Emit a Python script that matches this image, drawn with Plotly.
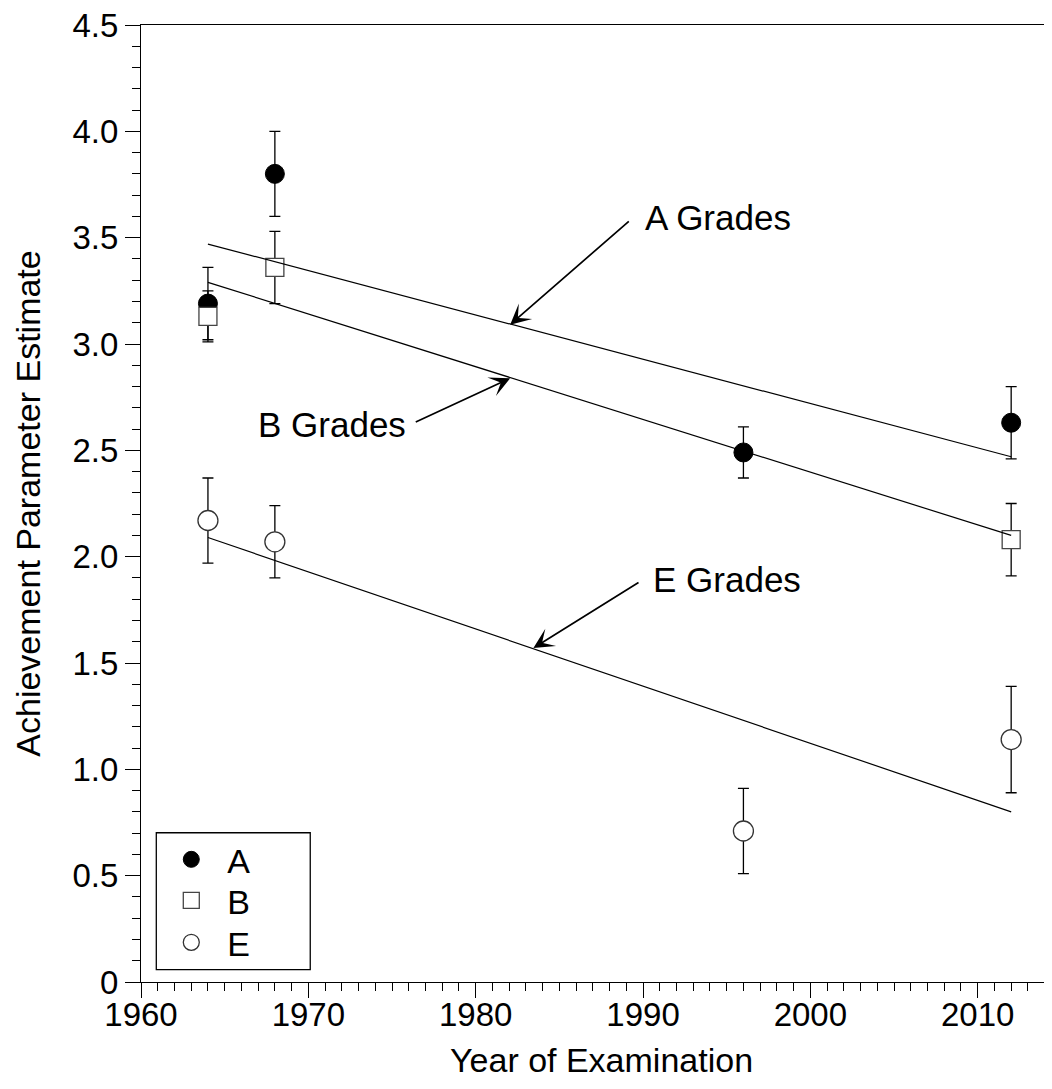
import plotly.graph_objects as go

# ---------------- data ----------------
years_A = [1964, 1968, 1996, 2012]
grade_A = [3.19, 3.80, 2.49, 2.63]
err_A = [0.17, 0.20, 0.12, 0.17]

years_B = [1964, 1968, 2012]
grade_B = [3.13, 3.36, 2.08]
err_B = [0.12, 0.17, 0.17]

years_E = [1964, 1968, 1996, 2012]
grade_E = [2.17, 2.07, 0.71, 1.14]
err_E = [0.20, 0.17, 0.20, 0.25]

fit_years = [1964, 2012]
fit_A = [3.47, 2.47]
fit_B = [3.29, 2.10]
fit_E = [2.09, 0.80]

y_tickvals = [0, 0.5, 1.0, 1.5, 2.0, 2.5, 3.0, 3.5, 4.0, 4.5]
y_ticktext = ["0", "0.5", "1.0", "1.5", "2.0", "2.5", "3.0", "3.5", "4.0", "4.5"]
x_tickvals = [1960, 1970, 1980, 1990, 2000, 2010]

FONT = "Liberation Sans, Arial, Helvetica, sans-serif"

# figure geometry (page has 8px body margin)
W, H = 1044, 1073
ML, MT = 132.7, 17
BOTTOM = 974.3
PLOT_W = W - ML
PLOT_H = BOTTOM - MT


def px_to_paper_x(sx):
    return (sx - 8 - ML) / PLOT_W


def px_to_paper_y(sy):
    return (BOTTOM - (sy - 8)) / PLOT_H


fig = go.Figure()


def err(arr):
    return dict(type="data", array=arr, visible=True, color="black", thickness=1.3, width=5.5)


fig.add_trace(go.Scatter(x=years_A, y=grade_A, mode="markers", name="A", legend="legend",
                         marker=dict(symbol="circle", size=19, color="black",
                                     line=dict(color="black", width=1)),
                         error_y=err(err_A)))
fig.add_trace(go.Scatter(x=years_B, y=grade_B, mode="markers", name="B", legend="legend2",
                         marker=dict(symbol="square", size=18, color="white",
                                     line=dict(color="#444", width=1.3)),
                         error_y=err(err_B)))
fig.add_trace(go.Scatter(x=years_E, y=grade_E, mode="markers", name="E", legend="legend3",
                         marker=dict(symbol="circle", size=20, color="white",
                                     line=dict(color="#333", width=1.3)),
                         error_y=err(err_E)))

for fy in (fit_A, fit_B, fit_E):
    fig.add_trace(go.Scatter(x=fit_years, y=fy, mode="lines", showlegend=False,
                             line=dict(color="black", width=1.2), hoverinfo="skip"))

# annotations: text labels and separate arrows
labels = [
    ("A Grades", 1990.0, 3.593),
    ("B Grades", 1966.85, 2.62),
    ("E Grades", 1990.5, 1.891),
]
for txt, xx, yy in labels:
    fig.add_annotation(x=xx, y=yy, text=txt, showarrow=False, xanchor="left", yanchor="middle",
                       font=dict(family=FONT, size=35, color="black"))

arrows = [
    (1982.06, 3.091, 1989.24, 3.583),
    (1982.06, 2.839, 1976.33, 2.630),
    (1983.45, 1.570, 1989.82, 1.883),
]
for hx, hy, tx, ty in arrows:
    fig.add_annotation(x=hx, y=hy, ax=tx, ay=ty, xref="x", yref="y", axref="x", ayref="y",
                       text="", showarrow=True, arrowhead=3, arrowsize=2.0, arrowwidth=1.7,
                       arrowcolor="black")

# x-axis title (placed as paper annotation so it can sit low in the margin)
fig.add_annotation(x=px_to_paper_x(601), y=px_to_paper_y(1060), xref="paper", yref="paper",
                   text="Year of Examination", showarrow=False, xanchor="center", yanchor="middle",
                   font=dict(family=FONT, size=34, color="black"))

# legend box
fig.add_shape(type="rect", xref="paper", yref="paper",
              x0=px_to_paper_x(156), x1=px_to_paper_x(310),
              y0=px_to_paper_y(970), y1=px_to_paper_y(833),
              line=dict(color="black", width=1.3), fillcolor="white", layer="below")

leg_common = dict(xanchor="left", yanchor="middle", bgcolor="rgba(0,0,0,0)", borderwidth=0,
                  itemwidth=62, font=dict(family=FONT, size=34, color="black"))

fig.update_layout(
    width=W, height=H,
    margin=dict(l=ML, r=0, t=MT, b=H - BOTTOM, autoexpand=False),
    plot_bgcolor="white", paper_bgcolor="white",
    font=dict(family=FONT, size=33, color="black"),
    showlegend=True,
    legend=dict(x=px_to_paper_x(155), y=px_to_paper_y(860), **leg_common),
    legend2=dict(x=px_to_paper_x(155), y=px_to_paper_y(901), **leg_common),
    legend3=dict(x=px_to_paper_x(155), y=px_to_paper_y(943), **leg_common),
    xaxis=dict(range=[1960, 2014.44], tickvals=x_tickvals, ticks="outside", ticklen=15,
               tickwidth=1.3, tickcolor="black", showline=True, linecolor="black", linewidth=1.3,
               mirror=True, showgrid=False, zeroline=False, ticklabelstandoff=-12,
               automargin=False, ticklabeloverflow="allow",
               tickfont=dict(family=FONT, size=33),
               minor=dict(dtick=1, tick0=1960, ticks="outside", ticklen=8, tickwidth=1.1,
                          tickcolor="black", showgrid=False)),
    yaxis=dict(range=[0, 4.5], tickvals=y_tickvals, ticktext=y_ticktext, ticks="outside", ticklen=15,
               tickwidth=1.3, tickcolor="black", showline=True, linecolor="black", linewidth=1.3,
               mirror=False, showgrid=False, zeroline=False,
               automargin=False, ticklabeloverflow="allow",
               tickfont=dict(family=FONT, size=33),
               minor=dict(dtick=0.1, tick0=0, ticks="outside", ticklen=8, tickwidth=1.1,
                          tickcolor="black", showgrid=False),
               title=dict(text="Achievement Parameter Estimate", font=dict(family=FONT, size=34),
                          standoff=21)),
)

fig.write_html("out.html")
